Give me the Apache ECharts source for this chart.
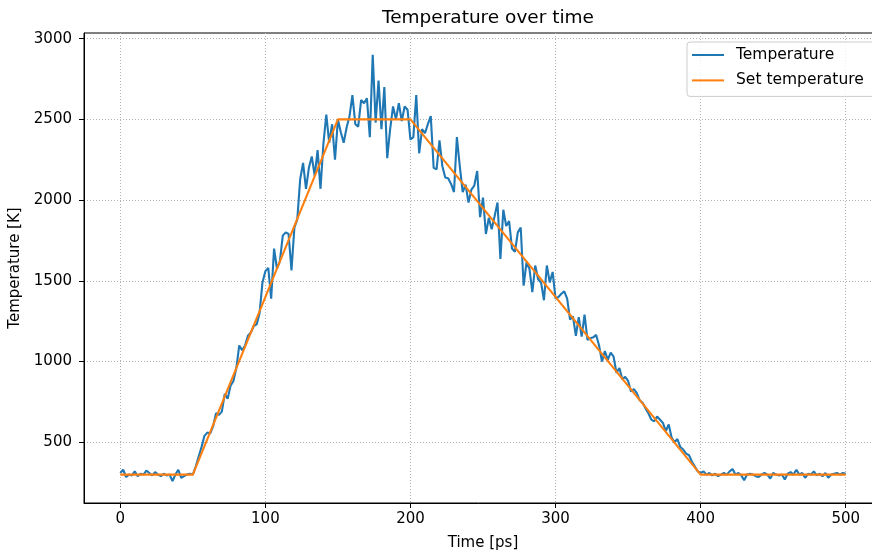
<!DOCTYPE html>
<html>
<head>
<meta charset="utf-8">
<script src="https://cdn.jsdelivr.net/npm/echarts@6/dist/echarts.min.js"></script>
<style>html,body{margin:0;padding:0;background:#fff;}#c{width:872px;height:555px;}</style>
</head>
<body>
<div id="c"></div>
<script>
// Temperature samples every 2 ps, from 0 to 500 ps
const temperature = [
  310,330,285,300,295,320,290,305,300,325,310,295,315,300,290,305,295,300,260,300,330,280,290,300,305,300,
  350,410,470,540,560,555,600,680,670,690,800,770,850,880,960,1100,1070,1100,1160,1180,
  1220,1230,1300,1490,1560,1580,1390,1700,1575,1620,1780,1800,1790,1565,1830,
  1880,2130,2230,2070,2200,2270,2150,2310,2070,2350,2530,2355,2470,2250,2500,
  2420,2355,2450,2520,2650,2470,2455,2620,2600,2630,2390,2900,2480,2740,2440,2700,2260,2440,2580,2500,2600,2490,2580,2560,2375,
  2390,2650,2290,2440,2415,2470,2520,2200,2190,2370,
  2210,2140,2135,2100,2050,2390,2210,2050,2095,1985,
  2065,2090,2180,1895,2015,1790,1890,1820,1900,1985,
  1635,1940,1840,1870,1700,1680,1800,1830,1470,1615,
  1575,1430,1595,1510,1490,1380,1595,1490,1555,1390,
  1400,1420,1435,1390,1260,1280,1160,1275,1155,1290,
  1135,1145,1150,1165,1100,1000,1065,1010,1055,1030,
  930,960,890,905,880,815,830,805,760,745,
  710,680,640,630,660,640,620,570,610,530,
  500,520,470,455,430,420,380,350,320,310,
  320,300,310,295,305,290,300,310,300,320,
  335,300,310,295,265,300,305,300,290,285,
  300,310,300,275,310,300,295,300,270,305,
  315,300,330,300,310,280,305,300,320,295,
  305,290,310,280,300,305,310,300,310,305
];
const sampleStep = 2;
const times = temperature.map((_, i) => i * sampleStep);

const setTimes = [0, 50, 150, 200, 400, 500];
const setTemperature = [300, 300, 2500, 2500, 300, 300];

const xTicks = [0, 100, 200, 300, 400, 500];
const yTicks = [500, 1000, 1500, 2000, 2500, 3000];

const titleText = 'Temperature over time';
const xName = 'Time [ps]';
const yName = 'Temperature [K]';
const seriesNames = ['Temperature', 'Set temperature'];

const FONT = 'DejaVu Sans';
const FS = 15;
const chart = echarts.init(document.getElementById('c'), null, {renderer: 'canvas'});

const axisCommon = {
  axisLine: {show: true, onZero: false, lineStyle: {color: '#000', width: 1}},
  axisTick: {show: true, inside: false, length: 5, lineStyle: {color: '#000', width: 1}},
  splitLine: {show: true, lineStyle: {color: '#b0b0b0', width: 1, type: [1, 2]}},
  nameTextStyle: {fontFamily: FONT, fontSize: FS, color: '#000'},
};

chart.setOption({
  animation: false,
  backgroundColor: '#fff',
  title: {
    text: titleText,
    left: 483, top: 4, textAlign: 'center',
    textStyle: {fontFamily: FONT, fontSize: 18.5, fontWeight: 'normal', color: '#000'}
  },
  grid: {left: 84, top: 33, width: 798, bottom: 52, show: true, borderColor: '#000', borderWidth: 1,
         containLabel: false, outerBoundsMode: 'none'},
  legend: {
    orient: 'vertical', left: 687, top: 42,
    data: seriesNames,
    itemWidth: 32, itemHeight: 14, itemGap: 9.4,
    padding: [5, 14, 8, 5],
    backgroundColor: 'rgba(255,255,255,0.8)',
    borderColor: '#cccccc', borderWidth: 1, borderRadius: 3,
    textStyle: {fontFamily: FONT, fontSize: 15.5, color: '#000', padding: [0, 0, 0, 7]},
    icon: 'path://M0,6 L32,6 L32,8 L0,8 Z'
  },
  xAxis: Object.assign({}, axisCommon, {
    type: 'value', min: -25, max: 525,
    name: xName, nameLocation: 'middle', nameGap: 33,
    axisTick: Object.assign({}, axisCommon.axisTick, {customValues: xTicks}),
    axisLabel: {customValues: xTicks, formatter: v => String(v), fontFamily: FONT, fontSize: FS, color: '#000', margin: 9}
  }),
  yAxis: Object.assign({}, axisCommon, {
    type: 'value', min: 124, max: 3035,
    name: yName, nameLocation: 'middle', nameGap: 57, nameRotate: 90,
    axisTick: Object.assign({}, axisCommon.axisTick, {customValues: yTicks}),
    axisLabel: {customValues: yTicks, formatter: v => String(v), fontFamily: FONT, fontSize: FS, color: '#000', margin: 12}
  }),
  series: [
    {
      name: seriesNames[0], type: 'line', showSymbol: false, symbol: 'none',
      data: times.map((t, i) => [t, temperature[i]]),
      lineStyle: {color: '#1f77b4', width: 2.1}, itemStyle: {color: '#1f77b4'}, z: 2
    },
    {
      name: seriesNames[1], type: 'line', showSymbol: false, symbol: 'none',
      data: setTimes.map((t, i) => [t, setTemperature[i]]),
      lineStyle: {color: '#ff7f0e', width: 2.1}, itemStyle: {color: '#ff7f0e'}, z: 3
    }
  ]
});
</script>
</body>
</html>
